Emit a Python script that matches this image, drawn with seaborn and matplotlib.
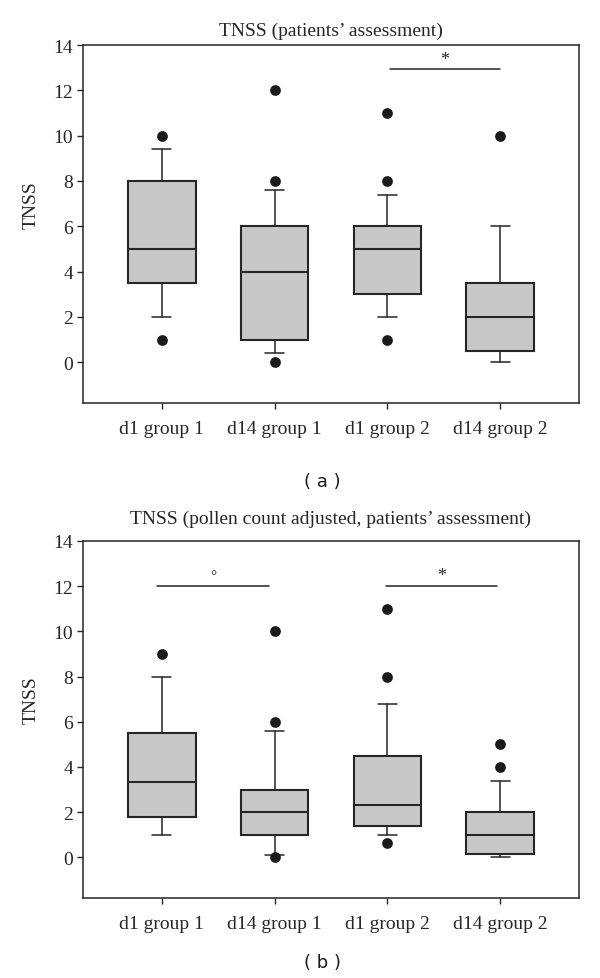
import pandas as pd
import numpy as np
import matplotlib
matplotlib.use("Agg")
import matplotlib.pyplot as plt
import seaborn as sns

### values (box = 25/50/75 %, whiskers, single points)
groups = ["d1 group 1", "d14 group 1", "d1 group 2", "d14 group 2"]

a_q1 = [3.5, 1.0, 3.0, 0.5]
a_med = [5.0, 4.0, 5.0, 2.0]
a_q3 = [8.0, 6.0, 6.0, 3.5]
a_lo = [2.0, 0.4, 2.0, 0.0]
a_hi = [9.4, 7.6, 7.4, 6.0]
a_out = [[1, 10], [0, 8, 12], [1, 8, 11], [10]]

b_q1 = [1.8, 1.0, 1.4, 0.15]
b_med = [3.33, 2.0, 2.33, 1.0]
b_q3 = [5.5, 3.0, 4.5, 2.0]
b_lo = [1.0, 0.12, 1.0, 0.0]
b_hi = [8.0, 5.6, 6.8, 3.4]
b_out = [[9], [0, 6, 10], [0.65, 8, 11], [4, 5]]

# significance bars: (start group, end group, height, symbol)
a_sig = [(2.02, 3.0, 12.93, "*")]
b_sig = [(-0.04, 0.95, 12.02, "°"), (1.99, 2.97, 12.02, "*")]

sns.set_style("ticks")
plt.rcParams["font.family"] = ["Liberation Serif", "DejaVu Serif"]

edge = "#262626"
fill = "#c8c8c9"

fig = plt.figure(figsize=(6, 9.79), dpi=100)
ax_a = fig.add_axes([83 / 600, 1 - 404 / 979, 496 / 600, 358 / 979])
ax_b = fig.add_axes([83 / 600, 1 - 899 / 979, 496 / 600, 357 / 979])


def draw_panel(ax, q1, med, q3, lo, hi, out, sig, title, title_y, tag, tag_y):
    stats = []
    for i in range(len(groups)):
        stats.append({"label": groups[i], "q1": q1[i], "med": med[i], "q3": q3[i],
                      "whislo": lo[i], "whishi": hi[i], "fliers": []})
    ax.bxp(stats, positions=range(len(groups)), widths=0.6, capwidths=0.17,
           showfliers=False, patch_artist=True,
           boxprops=dict(facecolor=fill, edgecolor=edge, linewidth=1.5),
           medianprops=dict(color=edge, linewidth=1.5),
           whiskerprops=dict(color=edge, linewidth=1.1),
           capprops=dict(color=edge, linewidth=1.1))

    # single points outside the whiskers
    pts = pd.DataFrame([(i, v) for i, vals in enumerate(out) for v in vals],
                       columns=["pos", "TNSS"])
    sns.scatterplot(data=pts, x="pos", y="TNSS", ax=ax, color="#1a1a1a",
                    s=60, edgecolor="#1a1a1a", linewidth=0, zorder=5, legend=False)

    for x0, x1, y, sym in sig:
        ax.plot([x0, x1], [y, y], color=edge, linewidth=1.1)
        if sym == "*":
            ax.text((x0 + x1) / 2, y + 0.45, sym, ha="center", va="center", fontsize=13, color=edge)
        else:
            ax.text((x0 + x1) / 2, y + 0.45, sym, ha="center", va="center", fontsize=11, color=edge)

    ax.set_xlim(-0.7, 3.7)
    ax.set_ylim(-1.8, 14)
    ax.set_yticks(np.arange(0, 15, 2))
    ax.set_xticks(range(len(groups)))
    ax.set_xticklabels(groups)
    ax.set_xlabel("")
    ax.set_ylabel("TNSS", fontsize=14)
    ax.yaxis.set_label_coords(-0.088, 0.556)
    ax.tick_params(axis="both", labelsize=14, length=4, width=1, color=edge, direction="out", pad=3)
    ax.tick_params(axis="x", pad=8)
    for sp in ax.spines.values():
        sp.set_visible(True)
        sp.set_color(edge)
        sp.set_linewidth(1.1)

    fig.text(331 / 600, 1 - title_y / 979, title, ha="center", va="center", fontsize=14)
    fig.text(322 / 600, 1 - tag_y / 979, "( " + tag + " )", ha="center", va="center",
             fontsize=13, family="DejaVu Sans", color="#1a1a1a")


draw_panel(ax_a, a_q1, a_med, a_q3, a_lo, a_hi, a_out, a_sig,
           "TNSS (patients\u2019 assessment)", 31, "a", 482)
draw_panel(ax_b, b_q1, b_med, b_q3, b_lo, b_hi, b_out, b_sig,
           "TNSS (pollen count adjusted, patients\u2019 assessment)", 519, "b", 963)

fig.savefig("out.png", dpi=100)
